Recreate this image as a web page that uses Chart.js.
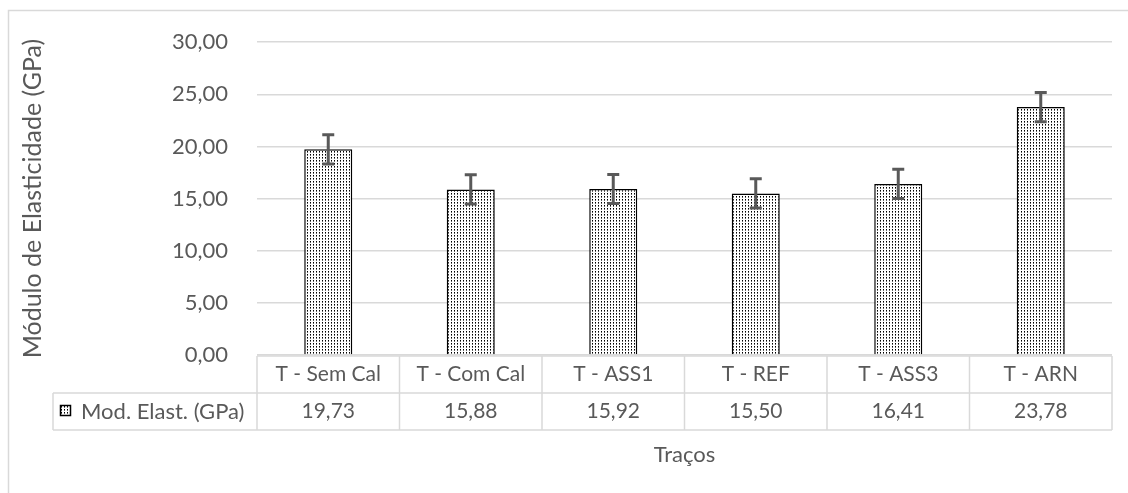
<!DOCTYPE html>
<html>
<head>
<meta charset="utf-8">
<title>Módulo de Elasticidade</title>
<script src="https://cdn.jsdelivr.net/npm/chart.js"></script>
<style>
  body { margin: 0; background: #fff; }
</style>
</head>
<body>
<canvas id="chartCanvas" width="1128" height="493"></canvas>
<script>
// Data
const categories = ['T - Sem Cal', 'T - Com Cal', 'T - ASS1', 'T - REF', 'T - ASS3', 'T - ARN'];
const moduloValues = [19.73, 15.88, 15.92, 15.50, 16.41, 23.78];
const errorValues = [1.4, 1.4, 1.4, 1.4, 1.4, 1.4];
const yTicks = [0, 5, 10, 15, 20, 25, 30];
const seriesLabel = 'Mod. Elast. (GPa)';
const yTitle = 'Módulo de Elasticidade (GPa)';
const xTitle = 'Traços';

const FONT = 'Lato';
const TEXT = '#595959';
const LINE = '#d9d9d9';

function fmt(v) {
  return v.toFixed(2).replace('.', ',');
}

// Dotted fill like the Excel pattern
function makePattern(ctx) {
  const c = document.createElement('canvas');
  c.width = 3;
  c.height = 3;
  const p = c.getContext('2d');
  p.fillStyle = '#fff';
  p.fillRect(0, 0, 3, 3);
  p.fillStyle = '#000';
  p.fillRect(1, 1, 1, 1);
  p.fillStyle = '#666';
  p.fillRect(1, 2, 1, 1);
  return ctx.createPattern(c, 'repeat');
}

const ctx = document.getElementById('chartCanvas').getContext('2d');
const dotPattern = makePattern(ctx);

// Draws border, error bars, data table and axis titles
const extrasPlugin = {
  id: 'extras',
  beforeDraw(chart) {
    const c = chart.ctx;
    c.save();
    c.strokeStyle = LINE;
    c.lineWidth = 1.5;
    c.beginPath();
    c.moveTo(8.5, 493);
    c.lineTo(8.5, 10.5);
    c.lineTo(1128, 10.5);
    c.stroke();
    c.restore();
  },
  afterDatasetsDraw(chart) {
    const c = chart.ctx;
    const x = chart.scales.x;
    const y = chart.scales.y;
    const area = chart.chartArea;
    c.save();

    // error bars
    c.strokeStyle = '#595959';
    c.lineWidth = 3;
    moduloValues.forEach((v, i) => {
      const cx = x.getPixelForValue(i);
      const top = y.getPixelForValue(v + errorValues[i]);
      const bot = y.getPixelForValue(v - errorValues[i]);
      c.beginPath();
      c.moveTo(cx, top);
      c.lineTo(cx, bot);
      c.moveTo(cx - 6, top);
      c.lineTo(cx + 6, top);
      c.moveTo(cx - 6, bot);
      c.lineTo(cx + 6, bot);
      c.stroke();
    });

    // data table
    const rowH = 37;
    const t0 = area.bottom + 1;
    const t1 = t0 + rowH;
    const t2 = t1 + rowH;
    const legendLeft = 53;
    const step = (area.right - area.left) / categories.length;
    c.strokeStyle = LINE;
    c.lineWidth = 1.5;
    c.beginPath();
    c.moveTo(area.left, t0);
    c.lineTo(area.right, t0);
    c.moveTo(legendLeft, t1);
    c.lineTo(area.right, t1);
    c.moveTo(legendLeft, t2);
    c.lineTo(area.right, t2);
    c.moveTo(legendLeft, t1);
    c.lineTo(legendLeft, t2);
    for (let i = 0; i <= categories.length; i++) {
      const lx = area.left + step * i;
      c.moveTo(lx, t0);
      c.lineTo(lx, t2);
    }
    c.stroke();

    c.fillStyle = TEXT;
    c.font = '21px ' + FONT;
    c.textAlign = 'center';
    c.textBaseline = 'middle';
    categories.forEach((cat, i) => {
      const cx = x.getPixelForValue(i);
      c.fillText(cat, cx, (t0 + t1) / 2);
      c.fillText(fmt(moduloValues[i]), cx, (t1 + t2) / 2);
    });

    // legend key in the table
    c.fillStyle = dotPattern;
    c.fillRect(60, 405, 11, 11);
    c.strokeStyle = '#000';
    c.lineWidth = 1.5;
    c.strokeRect(60.5, 405.5, 10, 10);
    c.fillStyle = TEXT;
    c.textAlign = 'left';
    c.font = '22px ' + FONT;
    c.fillText(seriesLabel, 81, (t1 + t2) / 2);

    // x title
    c.font = '22px ' + FONT;
    c.textAlign = 'center';
    c.fillText(xTitle, (area.left + area.right) / 2, 455);

    // y title
    c.font = '25px ' + FONT;
    c.translate(33, (area.top + area.bottom) / 2);
    c.rotate(-Math.PI / 2);
    c.fillText(yTitle, 0, 0);
    c.restore();
  }
};

new Chart(ctx, {
  type: 'bar',
  data: {
    labels: categories,
    datasets: [{
      label: seriesLabel,
      data: moduloValues,
      backgroundColor: dotPattern,
      borderColor: '#000',
      borderWidth: 1.5,
      barPercentage: 0.337,
      categoryPercentage: 1
    }]
  },
  options: {
    responsive: false,
    animation: false,
    layout: { padding: { top: 40, right: 16, bottom: 138, left: 0 } },
    plugins: {
      legend: { display: false },
      tooltip: { enabled: false }
    },
    scales: {
      x: {
        display: false
      },
      y: {
        min: 0,
        max: 30,
        afterFit(scale) { scale.width = 257; },
        afterBuildTicks(scale) { scale.ticks = yTicks.map(v => ({ value: v })); },
        border: { display: false },
        grid: { color: LINE, lineWidth: 1.5, drawTicks: false },
        ticks: {
          padding: 29,
          color: TEXT,
          font: { family: FONT, size: 22 },
          callback: (v) => fmt(v)
        }
      }
    }
  },
  plugins: [extrasPlugin]
});
</script>
</body>
</html>
